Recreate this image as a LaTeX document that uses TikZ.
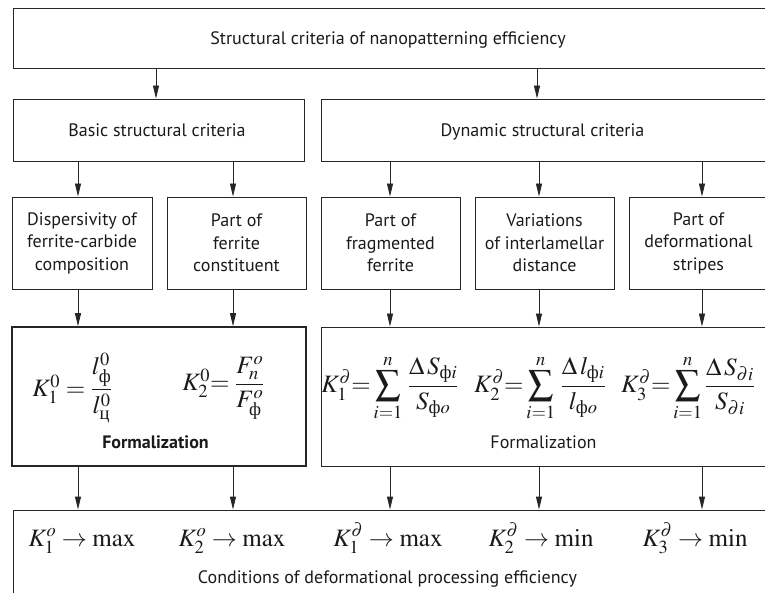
\documentclass[tikz,border=0pt]{standalone}
\usepackage{amsmath}
\usepackage{mathptmx}
\usepackage[no-math]{fontspec}
\setmainfont{PT Sans}
\newfontfamily\cyrf{Liberation Serif}
\usetikzlibrary{arrows.meta}
\newcommand\cf{\text{\cyrf ф}}
\newcommand\cc{\text{\cyrf ц}}
\newcommand\labfont{\fontsize{18}{22.5}\selectfont}
\newcommand\mthfont{\fontsize{25}{29}\selectfont}
\definecolor{lc}{HTML}{262626}
\definecolor{tc}{HTML}{1A1A1A}
\begin{document}
\begin{tikzpicture}[x=1pt,y=-1pt,
  box/.style={draw=lc, line width=0.9pt, rectangle, inner sep=0pt, font=\labfont, text=tc, align=center},
  arr/.style={draw=lc, line width=0.9pt, -{Triangle[length=13pt,width=6pt]}},
  lab/.style={font=\labfont, text=tc, align=center, inner sep=0pt},
  fm/.style={font=\mthfont, text=tc, inner sep=0pt}]
\useasboundingbox (0,0) rectangle (765,593);
\clip (0,0) rectangle (765,593);
% columns
\coordinate (xA) at (156,0);
\coordinate (xB) at (537,0);
\coordinate (x1) at (78,0);
\coordinate (x2) at (233,0);
\coordinate (x3) at (390,0);
\coordinate (x4) at (539,0);
\coordinate (x5) at (702,0);
% top
\node[box, minimum width=755pt, minimum height=60pt] (top) at (390.5,38) {};
\node[lab, anchor=base] (toplab) at (388,45) {Structural criteria of nanopatterning efficiency};
% row 2
\node[box, minimum width=291pt, minimum height=62pt] (basic) at (158.5,130) {};
\node[lab, anchor=base] (basiclab) at (157,137) {Basic structural criteria};
\node[box, minimum width=447pt, minimum height=62pt] (dyn) at (544.5,130) {};
\node[lab, anchor=base] (dynlab) at (542.5,137) {Dynamic structural criteria};
% row 3
\node[box, minimum width=140pt, minimum height=92pt] (r1) at (82,243) {Dispersivity of\\ferrite-carbide\\composition};
\node[box, minimum width=139pt, minimum height=92pt] (r2) at (236.5,243) {Part of\\ferrite\\constituent};
\node[box, minimum width=139pt, minimum height=92pt] (r3) at (390.5,243) {Part of\\fragmented\\ferrite};
\node[box, minimum width=139pt, minimum height=92pt] (r4) at (544.5,243) {Variations\\of interlamellar\\distance};
\node[box, minimum width=139pt, minimum height=92pt] (r5) at (698.5,243) {Part of\\deformational\\stripes};
% formalization
\node[box, line width=1.6pt, minimum width=294pt, minimum height=139pt] (fl) at (159,396.5) {};
\node[box, minimum width=447pt, minimum height=139pt] (fr) at (544.5,396.5) {};
\node[fm] (e1) at (72.5,388) {$K_1^0 = \dfrac{l^0_{\cf}}{l^0_{\cc}}$};
\node[fm] (e2) at (223.5,388) {$K_2^0{=}\;\dfrac{F^o_n}{F^o_{\cf}}$};
\node[fm] (e3) at (390,388) {$K_1^{\partial}{=}\displaystyle\sum_{i=1}^{n}\,\dfrac{\Delta\, S_{\cf i}}{S_{\cf o}}$};
\node[fm] (e4) at (540,388) {$K_2^{\partial}{=}\displaystyle\sum_{i=1}^{n}\,\dfrac{\Delta\, l_{\cf i}}{l_{\cf o}}$};
\node[fm] (e5) at (688,388) {$K_3^{\partial}{=}\displaystyle\sum_{i=1}^{n}\dfrac{\Delta\, S_{\partial i}}{S_{\partial i}}$};
\node[lab, anchor=base, font=\labfont\bfseries] (fllab) at (155.5,448) {Formalization};
\node[lab, anchor=base] (frlab) at (543.5,448) {Formalization};
% bottom
\node[box, minimum width=755pt, minimum height=100pt] (bot) at (390.5,560) {};
\node[fm, anchor=base] (c1) at (82,546) {$K_1^o\to\max$};
\node[fm, anchor=base] (c2) at (232,546) {$K_2^o\to\max$};
\node[fm, anchor=base] (c3) at (388,546) {$K_1^{\partial}\to\max$};
\node[fm, anchor=base] (c4) at (541,546) {$K_2^{\partial}\to\min$};
\node[fm, anchor=base] (c5) at (695,546) {$K_3^{\partial}\to\min$};
\node[lab, anchor=base] (botlab) at (387.5,583) {Conditions of deformational processing efficiency};
% arrows
\draw[arr] (top.south -| xA) -- (basic.north -| xA);
\draw[arr] (top.south -| xB) -- (dyn.north -| xB);
\draw[arr] (basic.south -| x1) -- (r1.north -| x1);
\draw[arr] (basic.south -| x2) -- (r2.north -| x2);
\draw[arr] (dyn.south -| x3) -- (r3.north -| x3);
\draw[arr] (dyn.south -| x4) -- (r4.north -| x4);
\draw[arr] (dyn.south -| x5) -- (r5.north -| x5);
\draw[arr] (r1.south -| x1) -- (fl.north -| x1);
\draw[arr] (r2.south -| x2) -- (fl.north -| x2);
\draw[arr] (r3.south -| x3) -- (fr.north -| x3);
\draw[arr] (r4.south -| x4) -- (fr.north -| x4);
\draw[arr] (r5.south -| x5) -- (fr.north -| x5);
\draw[arr] (fl.south -| x1) -- (bot.north -| x1);
\draw[arr] (fl.south -| x2) -- (bot.north -| x2);
\draw[arr] (fr.south -| x3) -- (bot.north -| x3);
\draw[arr] (fr.south -| x4) -- (bot.north -| x4);
\draw[arr] (fr.south -| x5) -- (bot.north -| x5);
\end{tikzpicture}
\end{document}
